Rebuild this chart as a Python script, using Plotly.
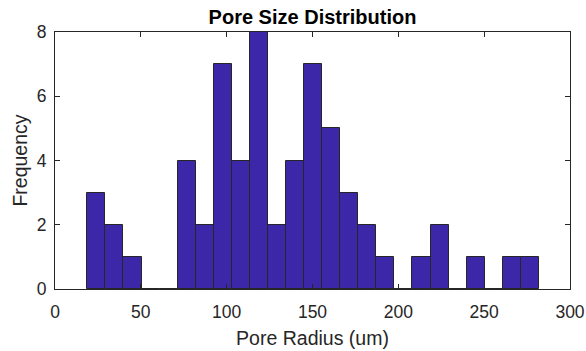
import plotly.graph_objects as go

# Histogram bin edges (um) and counts
bin_edges = [18.8, 29.3, 39.8, 50.4, 60.9, 71.4, 81.9, 92.5, 103.0, 113.5, 124.0,
             134.6, 145.1, 155.6, 166.1, 176.7, 187.2, 197.7, 208.2, 218.8, 229.3,
             239.8, 250.3, 260.9, 271.4, 281.9]
counts = [3, 2, 1, 0, 0, 4, 2, 7, 4, 8, 2, 4, 7, 5, 3, 2, 1, 0, 1, 2, 0, 1, 0, 1, 1]

x_ticks = [0, 50, 100, 150, 200, 250, 300]
y_ticks = [0, 2, 4, 6, 8]

centers = [(a + b) / 2 for a, b in zip(bin_edges[:-1], bin_edges[1:])]
widths = [b - a for a, b in zip(bin_edges[:-1], bin_edges[1:])]

fig = go.Figure(go.Bar(
    x=centers, y=counts, width=widths,
    marker=dict(color="#3B27A8", line=dict(color="#262626", width=1)),
    hoverinfo="x+y",
))

font = "Liberation Sans, Arial, sans-serif"
axis_common = dict(
    showline=True, linecolor="#262626", linewidth=1, mirror="ticks",
    ticks="inside", ticklen=5, tickcolor="#262626",
    showgrid=False, zeroline=False, automargin=False,
    tickfont=dict(family=font, size=17.5, color="#262626"),
)
fig.update_layout(
    width=586, height=351,
    margin=dict(l=55, r=16, t=32, b=62),
    paper_bgcolor="white", plot_bgcolor="white",
    bargap=0,
    title=dict(text="<b>Pore Size Distribution</b>", xref="paper", x=0.5,
               xanchor="center", y=0.951, yanchor="middle",
               font=dict(family=font, size=20, color="black")),
    xaxis=dict(range=[0, 300], tickvals=x_ticks, ticklabelstandoff=7,
               title=dict(text="Pore Radius (um)", standoff=10,
                          font=dict(family=font, size=19.5, color="#262626")),
               **axis_common),
    yaxis=dict(range=[0, 8], tickvals=y_ticks, ticklabelstandoff=4,
               title=dict(text="Frequency", standoff=3,
                          font=dict(family=font, size=19.5, color="#262626")),
               **axis_common),
    showlegend=False,
)

fig.write_html("out.html", config={"displayModeBar": False},
               post_script="document.body.style.margin='0';"
                           "document.body.style.overflow='hidden';")
